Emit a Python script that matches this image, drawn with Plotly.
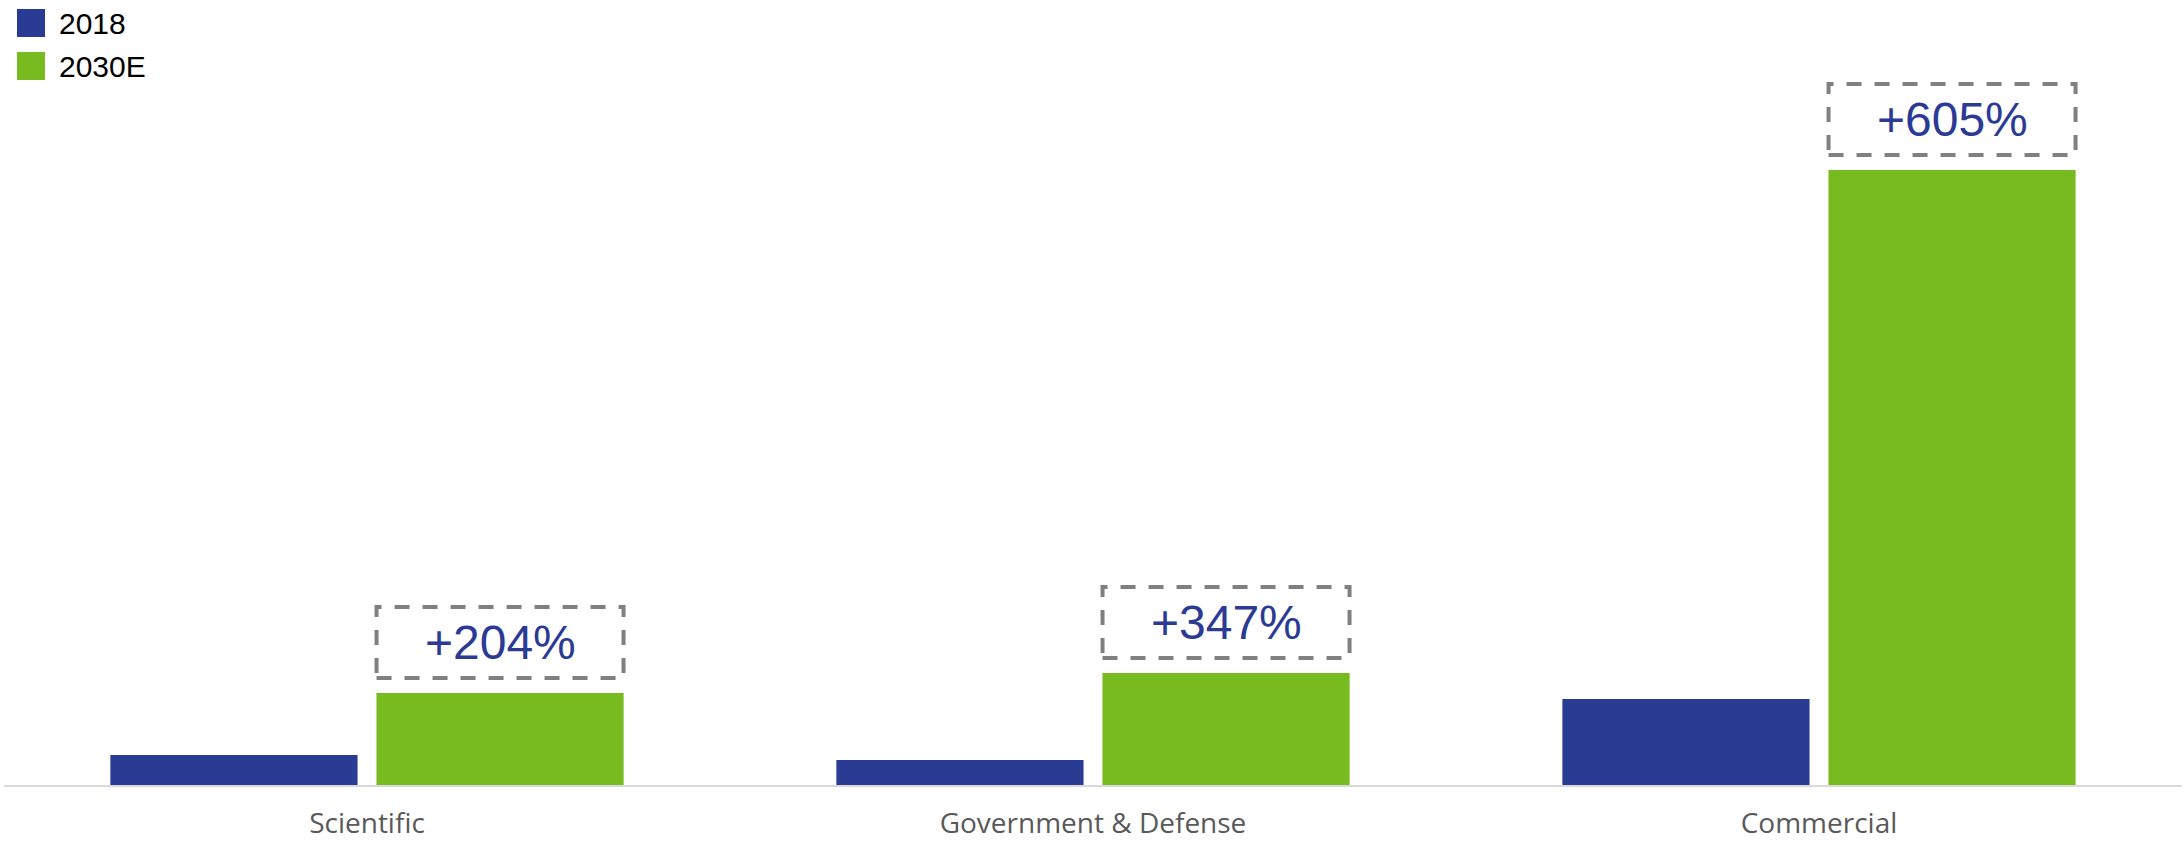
import plotly.graph_objects as go

categories = ["Scientific", "Government & Defense", "Commercial"]
series_names = ["2018", "2030E"]
values_2018 = [3.0, 2.5, 8.6]
values_2030 = [9.2, 11.2, 61.5]
growth_labels = ["+204%", "+347%", "+605%"]

BLUE = "#2A3B93"
GREEN = "#77BB21"
BARGAP = 0.267
GROUPGAP = 0.071

fig = go.Figure()
fig.add_trace(go.Bar(x=categories, y=values_2018, name=series_names[0],
                     marker=dict(color=BLUE, line=dict(width=0)), showlegend=False))
fig.add_trace(go.Bar(x=categories, y=values_2030, name=series_names[1],
                     marker=dict(color=GREEN, line=dict(width=0)), showlegend=False))

green_offset = (1 - BARGAP) / 4
bar_half_px = 123.5
shapes = []
annotations = []
for i, (v, lab) in enumerate(zip(values_2030, growth_labels)):
    xc = i + green_offset
    shapes.append(dict(type="rect", xref="x", yref="y",
                       xsizemode="pixel", ysizemode="pixel",
                       xanchor=xc, yanchor=v,
                       x0=-bar_half_px, x1=bar_half_px, y0=15, y1=86,
                       line=dict(color="#808080", width=4, dash="15px,13px"),
                       fillcolor="rgba(0,0,0,0)"))
    annotations.append(dict(x=xc, y=v, xref="x", yref="y", text=lab,
                            showarrow=False, yanchor="middle", yshift=51,
                            font=dict(family="Liberation Sans, Arial", size=48, color="#2B3A94")))

# manual legend (pixel offsets relative to top of plot area)
legend_colors = [BLUE, GREEN]
legend_offsets = [(38, 66, 52), (-5, 23, 9)]
for name, col, (y0, y1, ys) in zip(series_names, legend_colors, legend_offsets):
    shapes.append(dict(type="rect", xref="paper", yref="paper",
                       xsizemode="pixel", ysizemode="pixel",
                       xanchor=0, yanchor=1, x0=13, x1=41, y0=y0, y1=y1,
                       line=dict(width=0), fillcolor=col))
    annotations.append(dict(x=0, y=1, xref="paper", yref="paper", text=name,
                            showarrow=False, xanchor="left", yanchor="middle",
                            xshift=53, yshift=ys,
                            font=dict(family="Liberation Sans, Arial", size=30, color="#000000")))

fig.update_layout(
    width=2184, height=841,
    margin=dict(l=4, r=2, t=75, b=56, autoexpand=False),
    paper_bgcolor="white", plot_bgcolor="white",
    barmode="group", bargap=BARGAP, bargroupgap=GROUPGAP,
    shapes=shapes, annotations=annotations,
    xaxis=dict(showline=True, linecolor="#D9D9D9", linewidth=2, automargin=False,
               ticks="outside", ticklen=12, tickcolor="rgba(0,0,0,0)",
               tickfont=dict(family="Open Sans", size=28, color="#595959"),
               showgrid=False, zeroline=False),
    yaxis=dict(range=[0, 71], visible=False, showgrid=False, zeroline=False),
)

fig.write_html("out.html")
